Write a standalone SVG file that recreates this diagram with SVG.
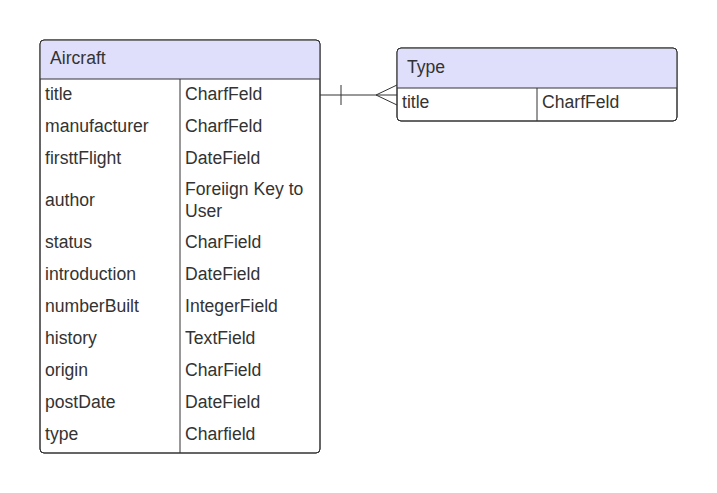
<svg xmlns="http://www.w3.org/2000/svg" width="717" height="493" viewBox="0 0 717 493">
<style>
text{font-family:"Liberation Sans",Arial,sans-serif;font-size:17.6px;fill:#333333}
.box{fill:#ffffff;stroke:#333333;stroke-width:1}
.hdr{fill:#dfdffb;stroke:none}
.ln{stroke:#333333;stroke-width:1;fill:none}
</style>
<rect width="717" height="493" fill="#ffffff"/>
<g id="aircraft">
<rect class="box" x="40" y="40" width="280" height="413" rx="4"/>
<path class="hdr" d="M44.5,40.5 H315.5 A4,4 0 0 1 319.5,44.5 V79 H40.5 V44.5 A4,4 0 0 1 44.5,40.5 Z"/>
<rect class="ln" x="40" y="40" width="280" height="413" rx="4"/>
<line class="ln" x1="40" y1="79" x2="320" y2="79"/>
<line class="ln" x1="180" y1="79" x2="180" y2="453"/>
<text x="50" y="64">Aircraft</text>
<text x="45" y="100">title</text><text x="185" y="100">CharfFeld</text>
<text x="45" y="132">manufacturer</text><text x="185" y="132">CharfFeld</text>
<text x="45" y="164">firsttFlight</text><text x="185" y="164">DateField</text>
<text x="45" y="206">author</text><text x="185" y="195">Foreiign Key to</text><text x="185" y="217">User</text>
<text x="45" y="248">status</text><text x="185" y="248">CharField</text>
<text x="45" y="280">introduction</text><text x="185" y="280">DateField</text>
<text x="45" y="312">numberBuilt</text><text x="185" y="312">IntegerField</text>
<text x="45" y="344">history</text><text x="185" y="344">TextField</text>
<text x="45" y="376">origin</text><text x="185" y="376">CharField</text>
<text x="45" y="408">postDate</text><text x="185" y="408">DateField</text>
<text x="45" y="440">type</text><text x="185" y="440">Charfield</text>
</g>
<g id="type">
<rect class="box" x="397" y="48" width="280" height="73" rx="4"/>
<path class="hdr" d="M401.5,48.5 H672.5 A4,4 0 0 1 676.5,52.5 V88 H397.5 V52.5 A4,4 0 0 1 401.5,48.5 Z"/>
<rect class="ln" x="397" y="48" width="280" height="73" rx="4"/>
<line class="ln" x1="397" y1="88" x2="677" y2="88"/>
<line class="ln" x1="537" y1="88" x2="537" y2="121"/>
<text x="407" y="73">Type</text>
<text x="402" y="108">title</text><text x="542" y="108">CharfFeld</text>
</g>
<g id="connectors">
<line class="ln" x1="320" y1="95" x2="397" y2="95"/>
<line class="ln" x1="341" y1="85" x2="341" y2="105"/>
<polyline class="ln" points="397,85 376,95 397,105"/>
</g>
</svg>
